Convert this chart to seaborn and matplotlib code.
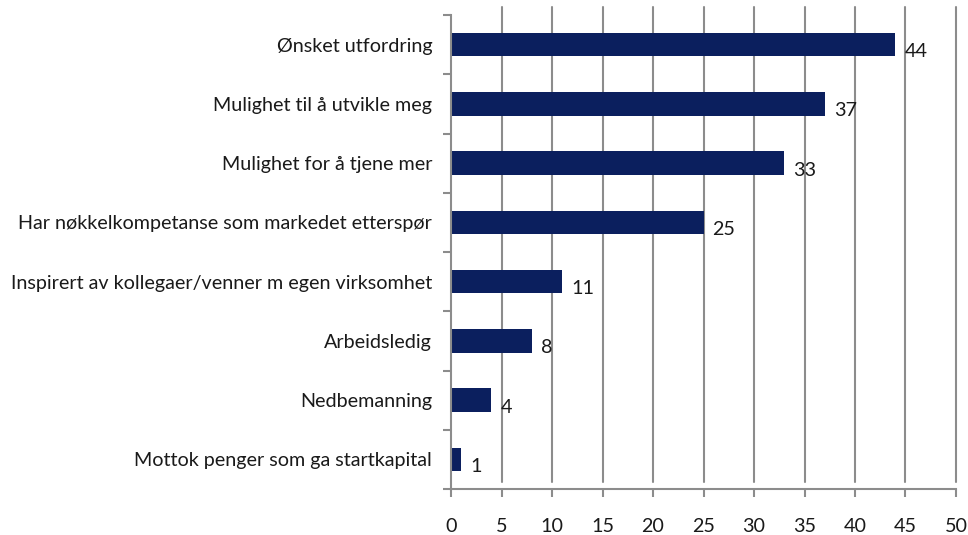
import numpy as np
import pandas as pd
import matplotlib
matplotlib.use("Agg")
import matplotlib.pyplot as plt
import seaborn as sns

# Data
reasons = [
    "Ønsket utfordring",
    "Mulighet til å utvikle meg",
    "Mulighet for å tjene mer",
    "Har nøkkelkompetanse som markedet etterspør",
    "Inspirert av kollegaer/venner m egen virksomhet",
    "Arbeidsledig",
    "Nedbemanning",
    "Mottok penger som ga startkapital",
]
values = [44, 37, 33, 25, 11, 8, 4, 1]
x_ticks = [0, 5, 10, 15, 20, 25, 30, 35, 40, 45, 50]

df = pd.DataFrame({"reason": reasons, "value": values})

sns.set_theme(style="white")
plt.rcParams["font.family"] = ["Lato", "DejaVu Sans"]

bar_color = "#0b1f5e"
grid_color = "#8c8c8c"
text_color = "#1a1a1a"
fs = 14.2

fig = plt.figure(figsize=(9.68, 5.35), dpi=100)
ax = fig.add_axes([451 / 968, 1 - 489 / 535, (956 - 451) / 968, (489 - 15) / 535])

sns.barplot(data=df, x="value", y="reason", orient="h", color=bar_color,
            width=0.4, saturation=1, linewidth=0, ax=ax)

ax.set_xlim(0, 50)
ax.set_ylim(7.5, -0.5)
ax.set_xticks(x_ticks)
ax.set_xlabel("")
ax.set_ylabel("")

# vertical gridlines (slightly offset upward, like the original)
for x in x_ticks[1:]:
    ax.axvline(x, ymin=0.015, ymax=1.017, color=grid_color, linewidth=1.5,
               clip_on=False, zorder=0)

for side in ["top", "right"]:
    ax.spines[side].set_visible(False)
for side in ["left", "bottom"]:
    ax.spines[side].set_color(grid_color)
    ax.spines[side].set_linewidth(1.5)

# category labels centred, tick marks between categories
ax.set_yticks(np.arange(-0.5, len(reasons)), minor=True)
ax.tick_params(axis="y", which="major", left=True, length=0, pad=13.5,
               labelsize=fs, labelcolor=text_color)
ax.tick_params(axis="y", which="minor", left=True, length=6, width=1.5,
               color=grid_color, direction="out")
ax.tick_params(axis="x", which="major", bottom=True, length=6, width=1.5,
               color=grid_color, direction="out", pad=15, labelsize=fs,
               labelcolor=text_color)

# value labels
for i, v in enumerate(values):
    ax.text(v + 0.9, i + 0.12, str(v), va="center", ha="left", fontsize=fs, color=text_color)

fig.savefig("out.png", dpi=100)
